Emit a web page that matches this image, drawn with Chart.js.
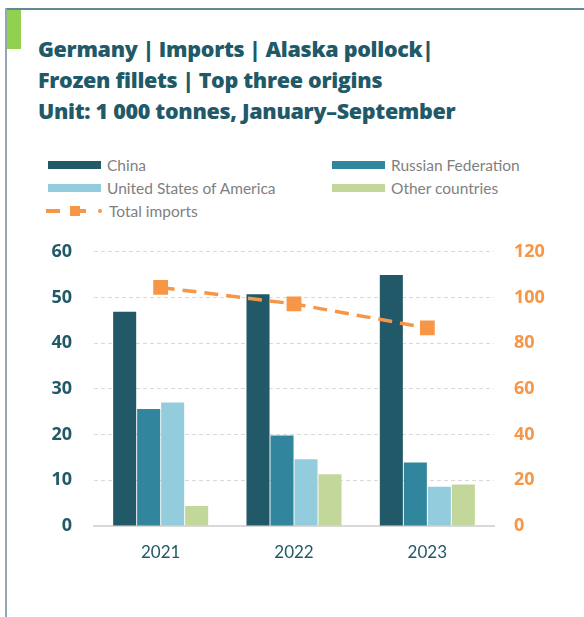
<!DOCTYPE html>
<html>
<head>
<meta charset="utf-8">
<script src="https://cdn.jsdelivr.net/npm/chart.js@4"></script>
<style>
    html, body { margin: 0; padding: 0; background: #fff; }
    body { width: 584px; height: 617px; position: relative; overflow: hidden; font-family: Lato, "Open Sans", sans-serif; }
    .frame-top { position: absolute; left: 5px; top: 8px; width: 579px; height: 2px; background: #5f8a96; }
    .frame-left { position: absolute; left: 5px; top: 8px; width: 2px; height: 609px; background: #8fa9b3; }
    .accent { position: absolute; left: 7px; top: 10px; width: 14px; height: 39px; background: #92d050; }
    .title { position: absolute; left: 38px; top: 33px; color: #215968; font-family: "Open Sans", sans-serif; font-weight: 800; font-size: 21.5px; line-height: 31px; letter-spacing: -0.3px; }
    .legend { position: absolute; left: 0; top: 0; color: #7f7f7f; font-size: 15.5px; }
    .legend .item { position: absolute; display: flex; align-items: center; height: 20px; white-space: nowrap; }
    .legend .sw { width: 53px; height: 8px; margin-right: 6px; }
    .chart-box { position: absolute; left: 0; top: 219px; width: 584px; height: 351px; }
</style>
</head>
<body>
<div class="frame-top"></div>
<div class="frame-left"></div>
<div class="accent"></div>
<div class="title">Germany | Imports | Alaska pollock|<br>Frozen fillets | Top three origins<br>Unit: 1 000 tonnes, January–September</div>
<div class="legend" id="legend"></div>
<div class="chart-box"><canvas id="chart"></canvas></div>

<script>
// ── Data (1 000 tonnes, Jan–Sep) ─────────────────────────
const years = ['2021', '2022', '2023'];
const china = [46.9, 50.7, 54.9];
const russia = [25.6, 19.8, 13.9];
const usa = [27.0, 14.6, 8.6];
const others = [4.4, 11.3, 9.1];
const totalImports = [104.4, 97.2, 86.7];

const leftTicks = [0, 10, 20, 30, 40, 50, 60];
const rightTicks = [0, 20, 40, 60, 80, 100, 120];

const teal = '#215968';
const orange = '#f79646';

const barSeries = [
    { label: 'China', data: china, color: '#215968' },
    { label: 'Russian Federation', data: russia, color: '#31859c' },
    { label: 'United States of America', data: usa, color: '#93cddd' },
    { label: 'Other countries', data: others, color: '#c4d79b' }
];

const datasets = barSeries.map(s => ({
    type: 'bar', label: s.label, data: s.data, backgroundColor: s.color,
    yAxisID: 'y', categoryPercentage: 0.72, barPercentage: 0.96, order: 2
}));
datasets.push({
    type: 'line', label: 'Total imports', data: totalImports, yAxisID: 'y1',
    borderColor: orange, backgroundColor: orange, borderWidth: 3.5, borderDash: [14, 8],
    pointStyle: 'rect', pointRadius: 8, pointHoverRadius: 8, fill: false, tension: 0, order: 1
});

const tickFont = { family: 'Open Sans', size: 18, weight: 'bold' };

new Chart(document.getElementById('chart'), {
    data: { labels: years, datasets },
    options: {
        responsive: true, maintainAspectRatio: false, animation: false,
        layout: { padding: { top: 9, left: 0, right: 0, bottom: 0 } },
        plugins: { legend: { display: false }, tooltip: { enabled: false } },
        scales: {
            x: {
                grid: { display: false, drawTicks: false },
                border: { display: true, color: '#d9d9d9', width: 2 },
                ticks: { color: teal, font: { family: 'Lato', size: 17 }, padding: 16 },
                afterFit: s => { s.height = 44; }
            },
            y: {
                position: 'left', min: 0, max: 60,
                afterBuildTicks: s => { s.ticks = leftTicks.map(v => ({ value: v })); },
                grid: { color: '#d9d9d9', lineWidth: 1, drawTicks: false },
                border: { display: false, dash: [4, 3] },
                ticks: { color: teal, font: tickFont, padding: 22 },
                afterFit: s => { s.width = 94; }
            },
            y1: {
                position: 'right', min: 0, max: 120,
                afterBuildTicks: s => { s.ticks = rightTicks.map(v => ({ value: v })); },
                grid: { display: false, drawTicks: false },
                border: { display: false },
                ticks: { color: orange, font: tickFont, padding: 20 },
                afterFit: s => { s.width = 90; }
            }
        }
    }
});

// ── HTML legend ──────────────────────────────────────────
const legendPos = [
    { left: 48, top: 155 }, { left: 332, top: 155 },
    { left: 48, top: 178 }, { left: 332, top: 178 }
];
const legend = document.getElementById('legend');
legend.innerHTML = barSeries.map((s, i) => `
    <div class="item" style="left:${legendPos[i].left}px;top:${legendPos[i].top}px">
        <span class="sw" style="background:${s.color}"></span>${s.label}
    </div>`).join('') + `
    <div class="item" style="left:46px;top:201px">
        <span style="width:14px;height:4px;background:${orange};margin-right:10px"></span>
        <span style="width:10px;height:10px;background:${orange}"></span>
        <span style="width:6px;height:4px;background:${orange};margin-right:12px"></span>
        <span style="width:4px;height:4px;border-radius:2px;background:${orange};margin-right:7px"></span>Total imports
    </div>`;
</script>
</body>
</html>
